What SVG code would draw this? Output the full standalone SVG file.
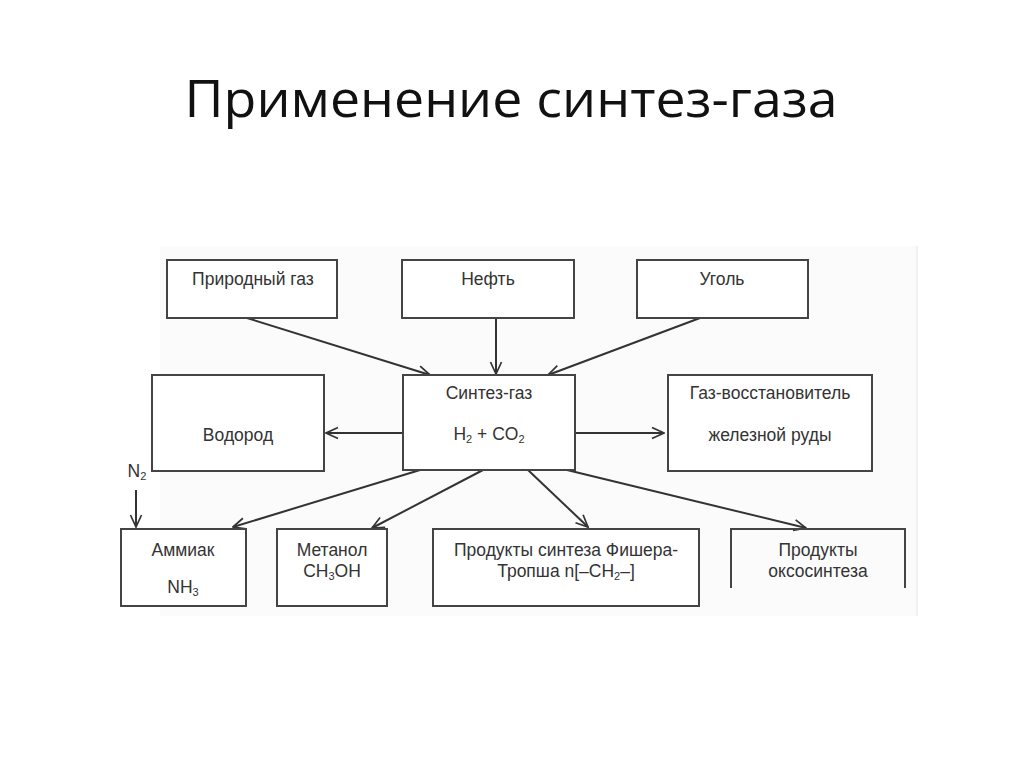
<svg xmlns="http://www.w3.org/2000/svg" width="1024" height="767" viewBox="0 0 1024 767">
<defs>
<marker id="arr" viewBox="0 0 14 14" refX="13" refY="7" markerWidth="14" markerHeight="14" markerUnits="userSpaceOnUse" orient="auto">
<polyline points="1,1.5 13,7 1,12.5" fill="none" stroke="#333" stroke-width="1.7"/>
</marker>
<style>
.box{fill:#fff;stroke:#444;stroke-width:2}
.t{font-family:"Liberation Sans",Arial,sans-serif;font-size:17.5px;fill:#333;text-anchor:middle}
.s{font-size:11px}
.c{stroke:#333;stroke-width:2;fill:none;marker-end:url(#arr)}
.title{font-family:"Open Sans","Liberation Sans",sans-serif;font-size:52px;fill:#111;text-anchor:middle}
</style>
</defs>
<rect width="1024" height="767" fill="#fff"/>
<rect x="160" y="246" width="757" height="370" fill="#fbfbfb"/>
<line x1="917" y1="246" x2="917" y2="616" stroke="#ececec" stroke-width="1.5"/>
<text class="title" x="511" y="117" textLength="653" lengthAdjust="spacingAndGlyphs">Применение синтез-газа</text>

<g id="connectors">
<line class="c" x1="247" y1="318" x2="430" y2="375"/>
<line class="c" x1="496" y1="318" x2="496" y2="374"/>
<line class="c" x1="700" y1="318" x2="548" y2="375"/>
<line class="c" x1="403" y1="433" x2="326" y2="433"/>
<line class="c" x1="575" y1="433" x2="664" y2="433"/>
<line class="c" x1="420" y1="470" x2="233" y2="527"/>
<line class="c" x1="483" y1="470" x2="372" y2="528"/>
<line class="c" x1="528" y1="470" x2="588" y2="527"/>
<line class="c" x1="567" y1="470" x2="806" y2="528"/>
<line class="c" x1="136" y1="490" x2="136" y2="527"/>
</g>

<g id="n2"><text class="t" x="137" y="477">N<tspan class="s" dy="3">2</tspan></text></g>

<g id="prirodny-gaz"><rect class="box" x="167" y="260" width="170" height="58"/><text class="t" x="253" y="285">Природный газ</text></g>
<g id="neft"><rect class="box" x="402" y="260" width="172" height="58"/><text class="t" x="488" y="285">Нефть</text></g>
<g id="ugol"><rect class="box" x="637" y="260" width="171" height="58"/><text class="t" x="722" y="285">Уголь</text></g>

<g id="sintez-gaz"><rect class="box" x="403" y="375" width="172" height="95"/><text class="t" x="489" y="399">Синтез-газ</text><text class="t" x="489" y="440">H<tspan class="s" dy="3">2</tspan><tspan dy="-3"> + CO</tspan><tspan class="s" dy="3">2</tspan></text></g>
<g id="vodorod"><rect class="box" x="152" y="375" width="172" height="96"/><text class="t" x="238" y="441">Водород</text></g>
<g id="gaz-vosst"><rect class="box" x="668" y="375" width="204" height="96"/><text class="t" x="770" y="399">Газ-восстановитель</text><text class="t" x="770" y="441">железной руды</text></g>

<g id="ammiak"><rect class="box" x="121" y="529" width="125" height="77"/><text class="t" x="183" y="556">Аммиак</text><text class="t" x="183" y="593">NH<tspan class="s" dy="3">3</tspan></text></g>
<g id="metanol"><rect class="box" x="277" y="529" width="110" height="77"/><text class="t" x="332" y="556">Метанол</text><text class="t" x="332" y="577">CH<tspan class="s" dy="3">3</tspan><tspan dy="-3">OH</tspan></text></g>
<g id="fisher"><rect class="box" x="433" y="529" width="266" height="77"/><text class="t" x="566" y="556">Продукты синтеза Фишера-</text><text class="t" x="566" y="577">Тропша n[–CH<tspan class="s" dy="3">2</tspan><tspan dy="-3">–]</tspan></text></g>
<g id="okso"><polyline points="731,588 731,529 905,529 905,588" fill="none" stroke="#444" stroke-width="2"/><text class="t" x="818" y="556">Продукты</text><text class="t" x="818" y="577">оксосинтеза</text></g>
</svg>
